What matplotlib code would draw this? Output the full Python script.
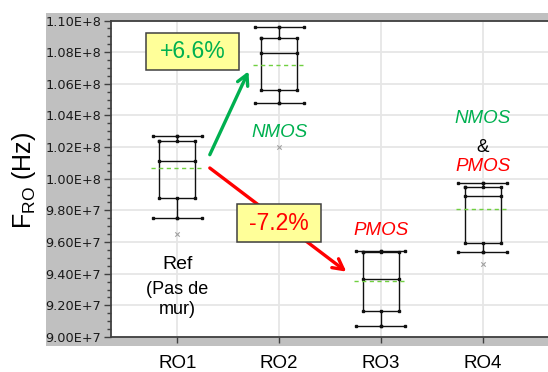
import numpy as np
import matplotlib.pyplot as plt
from matplotlib.patches import Rectangle
from matplotlib.ticker import MultipleLocator, FuncFormatter

# Box statistics (Hz)
ro_names = ['RO1', 'RO2', 'RO3', 'RO4']
whisker_hi = [1.0271e8, 1.0958e8, 9.546e7, 9.971e7]
q3 = [1.0241e8, 1.0890e8, 9.538e7, 9.950e7]
median = [1.0113e8, 1.0795e8, 9.366e7, 9.893e7]
mean = [1.0070e8, 1.0719e8, 9.356e7, 9.806e7]
q1 = [9.876e7, 1.0563e8, 9.166e7, 9.595e7]
whisker_lo = [9.751e7, 1.0480e8, 9.071e7, 9.538e7]
outlier_x = [1, 2, 4]
outlier_y = [9.654e7, 1.0199e8, 9.464e7]

GREEN = '#00b050'
RED = '#ff0000'

fig = plt.figure(figsize=(5.48, 3.72), dpi=100)
W, H = 548, 372

# gray frame behind the plot
fig.patches.append(Rectangle((46 / W, (H - 346) / H), (W - 46) / W, (346 - 13) / H,
                             transform=fig.transFigure, facecolor='#c0c0c0',
                             edgecolor='none', zorder=-5))

ax = fig.add_axes([111 / W, (H - 337) / H, (549 - 111) / W, (337 - 20.5) / H])
ax.set_zorder(1)
ax.set_facecolor('white')
ax.set_xlim(0.35, 4.65)
ax.set_ylim(9.0e7, 1.10e8)

ax.yaxis.set_major_locator(MultipleLocator(2e6))
ax.yaxis.set_minor_locator(MultipleLocator(5e5))


def sci(v, pos):
    e = int(np.floor(np.log10(v)))
    return f'{v / 10 ** e:.2f}E+{e}'


ax.yaxis.set_major_formatter(FuncFormatter(sci))
ax.set_xticks(range(1, 5))
ax.set_xticklabels(ro_names, fontfamily='Liberation Sans', fontsize=13.5)
ax.tick_params(axis='x', length=4, width=1, color='#404040', pad=9)
ax.tick_params(axis='y', which='major', length=5, width=1, color='#404040', pad=2,
               labelsize=9.3, labelcolor='#1a1a1a')
ax.tick_params(axis='y', which='minor', length=3, width=1, color='#404040')
for lab in ax.get_yticklabels():
    lab.set_fontfamily('DejaVu Sans')

ax.grid(True, color='#e6e6e6', linewidth=1.3, zorder=0)
ax.set_axisbelow(True)
for s in ['top', 'left', 'bottom']:
    ax.spines[s].set_color('#404040')
    ax.spines[s].set_linewidth(1.3)
ax.spines['right'].set_visible(False)

cw, bw, mw = 0.24, 0.175, 0.26
kw = dict(color='#111111', lw=1.0, marker='s', ms=2.0, zorder=3)
for i in range(len(ro_names)):
    x = i + 1
    ax.plot([x - cw, x, x + cw], [whisker_hi[i]] * 3, **kw)
    ax.plot([x - cw, x, x + cw], [whisker_lo[i]] * 3, **kw)
    ax.plot([x, x], [whisker_hi[i], q3[i]], **kw)
    ax.plot([x, x], [whisker_lo[i], q1[i]], **kw)
    ax.plot([x - bw, x + bw, x + bw, x - bw, x - bw],
            [q3[i], q3[i], q1[i], q1[i], q3[i]], **kw)
    ax.plot([x - bw, x + bw], [median[i]] * 2, **kw)
    ax.plot([x - mw, x + mw], [mean[i]] * 2, color='#70d040', lw=1,
            ls=(0, (3, 2.5)), zorder=4)

ax.scatter(outlier_x, outlier_y, marker='x', s=10, color='#a0a0a0', lw=0.8, zorder=3)

# arrows
ax.annotate('', xy=(1.70, 1.0679e8), xytext=(1.32, 1.0152e8),
            arrowprops=dict(arrowstyle='->,head_length=0.75,head_width=0.4',
                            color=GREEN, lw=2.4, shrinkA=0, shrinkB=0), zorder=5)
ax.annotate('', xy=(2.66, 9.413e7), xytext=(1.32, 1.0068e8),
            arrowprops=dict(arrowstyle='->,head_length=0.75,head_width=0.4',
                            color=RED, lw=2.4, shrinkA=0, shrinkB=0), zorder=5)

# percentage boxes
ax.add_patch(Rectangle((0.693, 1.0690e8), 0.912, 1.0924e8 - 1.0690e8,
                       facecolor='#ffff99', edgecolor='#404040', lw=1.1, zorder=6))
ax.text(1.149, 1.0807e8, '+6.6%', color=GREEN, fontsize=16.5, ha='center', va='center',
        fontfamily='Liberation Sans', zorder=7)
ax.add_patch(Rectangle((1.591, 9.599e7), 0.821, 9.840e7 - 9.599e7,
                       facecolor='#ffff99', edgecolor='#404040', lw=1.1, zorder=6))
ax.text(2.0, 9.720e7, '-7.2%', color=RED, fontsize=16.5, ha='center', va='center',
        fontfamily='Liberation Sans', zorder=7)

lab = dict(ha='center', va='center', fontfamily='Liberation Sans', zorder=7)
ax.text(2, 1.0291e8, 'NMOS', color=GREEN, fontsize=13.5, style='italic', **lab)
ax.text(3, 9.671e7, 'PMOS', color=RED, fontsize=13.5, style='italic', **lab)
ax.text(4, 1.0378e8, 'NMOS', color=GREEN, fontsize=13.5, style='italic', **lab)
ax.text(4, 1.0195e8, '&', color='black', fontsize=13.5, **lab)
ax.text(4, 1.0078e8, 'PMOS', color=RED, fontsize=13.5, style='italic', **lab)
ax.text(1, 9.456e7, 'Ref', color='black', fontsize=14, **lab)
ax.text(1, 9.297e7, '(Pas de', color='black', fontsize=13, **lab)
ax.text(1, 9.171e7, 'mur)', color='black', fontsize=13, **lab)

fig.text(24 / W, 1 - 180 / H, r'F$_{\mathregular{RO}}$ (Hz)', rotation=90,
         ha='center', va='center', fontsize=18, fontfamily='Liberation Sans')

fig.savefig('out.png', dpi=100)
